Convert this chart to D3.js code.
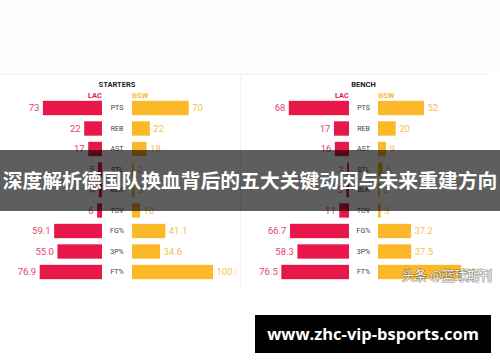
<!DOCTYPE html>
<html><head><meta charset="utf-8">
<script src="https://cdn.jsdelivr.net/npm/d3@7"></script>
<style>html,body{margin:0;padding:0;background:#fff;}svg{display:block;}</style>
</head><body>
<script>
const categories = ["PTS","REB","AST","STL","BLK","TOV","FG%","3P%","FT%"];
const teams = ["LAC","GSW"];
const startersLAC = [73,22,17,5,4,6,59.1,55.0,76.9];
const startersGSW = [70,22,18,2,3,10,41.1,34.6,100.0];
const benchLAC = [68,17,16,2,3,11,66.7,58.3,76.5];
const benchGSW = [52,20,9,5,2,3,37.2,37.5,94.0];
const panelTitles = ["STARTERS","BENCH"];
const headline = "深度解析德国队换血背后的五大关键动因与未来重建方向";
const siteText = "www.zhc-vip-bsports.com";
const watermark = "头条 @篮球期刊";

const W = 500, H = 362;
const RED = "#e8174a", YEL = "#fbb829", REDT = "#e2456b", YELT = "#f6c04f";
const svg = d3.select("body").append("svg").attr("width", W).attr("height", H);
svg.append("rect").attr("width", W).attr("height", H).attr("fill", "#fff");
svg.append("rect").attr("width", W).attr("height", 74).attr("fill", "#fdfdfd");
svg.append("line").attr("x1", 0).attr("x2", 487).attr("y1", 74.5).attr("y2", 74.5).attr("stroke", "#f0f0f0");
svg.append("line").attr("x1", 240.5).attr("x2", 240.5).attr("y1", 75).attr("y2", 290).attr("stroke", "#f2f2f2");

const y = d3.scaleBand().domain(categories).range([97.75, 282.25]).paddingInner(0.3).paddingOuter(0.15);

const panels = [
  {title: panelTitles[0], lac: startersLAC, gsw: startersGSW, cx: 117, lacEnd: 102, gswStart: 132, max: 81, clipX: 0, clipW: 236},
  {title: panelTitles[1], lac: benchLAC, gsw: benchGSW, cx: 363.5, lacEnd: 349, gswStart: 378, max: 88.5, clipX: 246, clipW: 254}
];
const fmt = (v, i) => i >= 6 ? v.toFixed(1) : String(v);
const defs = svg.append("defs");

panels.forEach((p, pi) => {
  const x = d3.scaleLinear().domain([0, 100]).range([0, p.max]);
  defs.append("clipPath").attr("id", "clip" + pi).append("rect")
    .attr("x", p.clipX).attr("y", 75).attr("width", p.clipW).attr("height", 220);
  const g = svg.append("g").attr("clip-path", `url(#clip${pi})`)
    .style("font-family", "Roboto, 'Noto Sans', sans-serif");
  g.append("text").attr("x", p.cx).attr("y", 87).attr("text-anchor", "middle")
    .attr("font-size", 7.5).attr("font-weight", 700).attr("fill", "#222").text(p.title);
  g.append("text").attr("x", p.lacEnd).attr("y", 97.5).attr("text-anchor", "end")
    .attr("font-size", 7.5).attr("font-weight", 700).attr("fill", RED).text(teams[0]);
  g.append("text").attr("x", p.gswStart).attr("y", 97.5).attr("text-anchor", "start")
    .attr("font-size", 7.5).attr("font-weight", 700).attr("fill", YEL).text(teams[1]);

  const rows = g.selectAll(".row").data(categories).join("g")
    .attr("transform", d => `translate(0,${y(d)})`);
  rows.append("rect").attr("x", (d, i) => p.lacEnd - x(p.lac[i])).attr("y", 0)
    .attr("width", (d, i) => x(p.lac[i])).attr("height", y.bandwidth()).attr("fill", RED);
  rows.append("rect").attr("x", p.gswStart).attr("y", 0)
    .attr("width", (d, i) => x(p.gsw[i])).attr("height", y.bandwidth()).attr("fill", YEL);
  rows.append("text").attr("x", p.cx).attr("y", y.bandwidth() / 2).attr("dy", "0.35em")
    .attr("text-anchor", "middle").attr("font-size", 7).attr("fill", "#444").text(d => d);
  rows.append("text").attr("x", (d, i) => p.lacEnd - x(p.lac[i]) - 3.5).attr("y", y.bandwidth() / 2).attr("dy", "0.35em")
    .attr("text-anchor", "end").attr("font-size", 9.5).attr("fill", REDT).text((d, i) => fmt(p.lac[i], i));
  rows.append("text").attr("x", (d, i) => p.gswStart + x(p.gsw[i]) + 3.5).attr("y", y.bandwidth() / 2).attr("dy", "0.35em")
    .attr("text-anchor", "start").attr("font-size", 9.5).attr("fill", YELT).text((d, i) => fmt(p.gsw[i], i));
});

// headline band
svg.append("rect").attr("x", 0).attr("y", 150).attr("width", W).attr("height", 61).attr("fill", "rgba(0,0,0,0.63)");
svg.append("text").attr("x", W / 2).attr("y", 181).attr("dy", "0.36em").attr("text-anchor", "middle")
  .style("font-family", "'Noto Sans CJK SC', sans-serif").attr("font-weight", 700).attr("font-size", 19.8)
  .attr("fill", "#fff").text(headline);

// watermark
svg.append("text").attr("x", 402).attr("y", 275).attr("dy", "0.36em")
  .style("font-family", "'Noto Sans CJK SC', sans-serif").attr("font-size", 12.6)
  .attr("fill", "#f6f6f6").attr("stroke", "rgba(60,60,60,0.6)").attr("stroke-width", 1.1)
  .style("paint-order", "stroke").text(watermark);

// site box
svg.append("rect").attr("x", 255).attr("y", 315).attr("width", 236).attr("height", 38).attr("fill", "#000");
svg.append("text").attr("x", 373).attr("y", 334).attr("dy", "0.35em").attr("text-anchor", "middle")
  .style("font-family", "'Open Sans', 'DejaVu Sans', sans-serif").attr("font-weight", 700).attr("font-size", 16.5)
  .attr("fill", "#fff").text(siteText);
</script>
</body></html>
